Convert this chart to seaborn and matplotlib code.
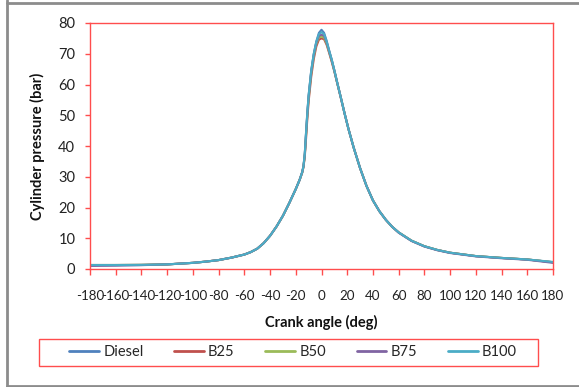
import matplotlib
matplotlib.use("Agg")
import matplotlib.pyplot as plt
import seaborn as sns
import pandas as pd
from matplotlib.lines import Line2D
from matplotlib.patches import Rectangle

angles = [-180, -160, -140, -120, -100, -90, -80, -70, -60, -55, -50, -45, -40, -35,
          -30, -25, -20, -17, -15, -14, -13, -12, -11, -10, -8, -6, -4, -2, 0, 2, 4,
          6, 8, 10, 12, 15, 18, 21, 25, 30, 35, 40, 45, 50, 55, 60, 70, 80, 90, 100,
          120, 140, 160, 180]

diesel = [1.2, 1.25, 1.3, 1.5, 2.0, 2.4, 2.9, 3.7, 4.7, 5.5, 6.6, 8.4, 10.8, 13.8,
          17.3, 21.5, 26.0, 29.0, 31.5, 33.5, 37.5, 44.5, 51, 56.5, 64.5, 70, 74, 76.8, 77.8, 76.8, 74.2,
          71, 68, 64.6, 61, 55.8, 50.5, 45.5, 39.5, 32.8, 27, 22.3, 18.8, 16, 13.7, 11.9, 9.2, 7.4, 6.2, 5.3,
          4.2, 3.6, 3.1, 2.2]
b25 = [1.3, 1.3, 1.35, 1.5, 2.0, 2.4, 2.9, 3.7, 4.7, 5.5, 6.6, 8.4, 10.8, 13.8,
       17.3, 21.5, 26.0, 29.0, 31.3, 33.2, 36.5, 42.5, 49, 54.5, 62.5, 68.3, 72.4, 74.6, 75.0, 74.7, 72.9,
       70.2, 67.3, 64.2, 60.8, 55.7, 50.5, 45.5, 39.5, 32.8, 27, 22.3, 18.8, 16, 13.7, 11.9, 9.2, 7.4, 6.2, 5.3,
       4.2, 3.6, 3.1, 2.2]
b50 = [1.3, 1.3, 1.35, 1.5, 2.0, 2.4, 2.9, 3.7, 4.7, 5.5, 6.6, 8.4, 10.8, 13.8,
       17.3, 21.5, 26.0, 29.0, 31.4, 33.3, 37, 43.5, 50, 55.5, 63.5, 69.2, 73.2, 75.3, 75.6, 75.2, 73.3,
       70.5, 67.6, 64.4, 60.9, 55.8, 50.5, 45.5, 39.5, 32.8, 27, 22.3, 18.8, 16, 13.7, 11.9, 9.2, 7.4, 6.2, 5.3,
       4.2, 3.6, 3.1, 2.2]
b75 = [1.0, 1.1, 1.25, 1.5, 2.0, 2.4, 2.9, 3.7, 4.7, 5.5, 6.6, 8.4, 10.8, 13.8,
       17.3, 21.5, 26.0, 29.0, 31.5, 33.4, 37.2, 44, 50.5, 56, 64, 69.6, 73.6, 75.8, 76.2, 75.8, 73.7,
       70.7, 67.8, 64.5, 61, 55.8, 50.5, 45.5, 39.5, 32.8, 27, 22.3, 18.8, 16, 13.7, 11.8, 9.1, 7.3, 6.1, 5.2,
       4.1, 3.5, 3.0, 2.0]
b100 = [1.3, 1.3, 1.35, 1.5, 2.0, 2.4, 2.9, 3.7, 4.7, 5.5, 6.6, 8.4, 10.8, 13.8,
        17.3, 21.5, 26.0, 29.0, 31.5, 33.5, 37.5, 44.5, 51, 56.5, 64.5, 70, 74, 76.4, 77.0, 76.4, 74,
        70.9, 68, 64.6, 61, 55.8, 50.5, 45.5, 39.5, 32.8, 27, 22.3, 18.8, 16, 13.7, 11.9, 9.2, 7.4, 6.2, 5.3,
        4.2, 3.6, 3.1, 2.3]

series_names = ["Diesel", "B25", "B50", "B75", "B100"]
series_values = [diesel, b25, b50, b75, b100]
colors = ["#4F81BD", "#C0504D", "#9BBB59", "#8064A2", "#4BACC6"]

x_ticks = list(range(-180, 181, 20))
y_ticks = list(range(0, 81, 10))

rows = []
for name, vals in zip(series_names, series_values):
    for a, v in zip(angles, vals):
        rows.append({"angle": a, "pressure": v, "fuel": name})
df = pd.DataFrame(rows)

sns.set_theme(style="white")
plt.rcParams["font.family"] = ["Lato", "DejaVu Sans"]
plt.rcParams["axes.unicode_minus"] = False

W, H = 579, 387
fig = plt.figure(figsize=(W / 100, H / 100), dpi=100)
ax = fig.add_axes([90 / W, 1 - 269 / H, (553 - 90) / W, (269 - 23) / H])

sns.lineplot(data=df, x="angle", y="pressure", hue="fuel", hue_order=series_names,
             palette=colors, linewidth=1.5, ax=ax, legend=False, estimator=None)

red = "#ff4d4d"
fs = 10.5
ax.set_xlim(-180, 180)
ax.set_ylim(0, 80)
ax.set_xticks(x_ticks)
ax.set_xticklabels([str(t) for t in x_ticks])
ax.set_yticks(y_ticks)
ax.set_yticklabels([str(t) for t in y_ticks])
for s in ax.spines.values():
    s.set_color(red)
    s.set_linewidth(1.0)
ax.tick_params(axis="x", direction="out", length=4.3, width=1, color=red,
               labelsize=9.6, pad=11, labelcolor="#222222", bottom=True)
ax.tick_params(axis="y", direction="out", length=3.6, width=1, color=red,
               labelsize=fs, pad=7, labelcolor="#222222", left=True)
ax.grid(False)

ax.set_xlabel("Crank angle (deg)", fontsize=fs, fontweight="bold", color="#111111")
ax.set_ylabel("Cylinder pressure (bar)", fontsize=fs, fontweight="bold", color="#111111")
ax.xaxis.label.set_va("center")
ax.yaxis.label.set_va("center")
ax.xaxis.set_label_coords(0.5, (269 - 322) / 246)
ax.yaxis.set_label_coords((37 - 90) / 463, 0.5)

handles = [Line2D([0], [0], color=c, lw=2) for c in colors]
ax.legend(handles, series_names, ncol=5, loc="center",
          bbox_to_anchor=(293 / W, 1 - 352.5 / H), bbox_transform=fig.transFigure,
          frameon=False, fontsize=fs, handlelength=2.05, handletextpad=0.28,
          columnspacing=2.1, borderpad=0)

fig.add_artist(Rectangle((39 / W, 1 - 366 / H), 499 / W, 27 / H, transform=fig.transFigure,
                         fill=False, edgecolor=red, linewidth=1.0))
gray = "#8c8c8c"
fig.add_artist(Line2D([7 / W, 7 / W], [0, 1], color=gray, lw=2, transform=fig.transFigure))
fig.add_artist(Line2D([7 / W, 1], [1 - 3 / H, 1 - 3 / H], color=gray, lw=2,
                      transform=fig.transFigure))
fig.add_artist(Line2D([7 / W, 1], [1 - 386 / H, 1 - 386 / H], color=gray, lw=2,
                      transform=fig.transFigure))

fig.savefig("out.png", dpi=100, facecolor="white")
